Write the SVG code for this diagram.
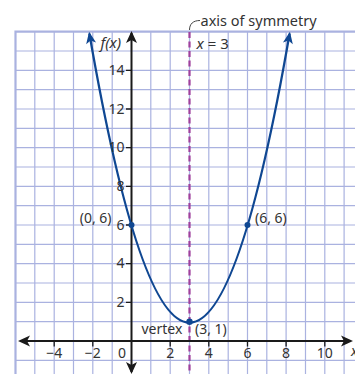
<svg xmlns="http://www.w3.org/2000/svg" width="355" height="374" viewBox="0 0 355 374">
<style>
.grid{stroke:#aab2e0;stroke-width:1.2;fill:none}
.border{stroke:#aab2e0;stroke-width:2.2;fill:none}
.axis{stroke:#1a1a1a;stroke-width:2;fill:none}
.tick{stroke:#1a1a1a;stroke-width:1.3}
.curve{stroke:#0f4792;stroke-width:2.3;fill:none}
.sym{stroke:#a0409c;stroke-width:2.2;stroke-dasharray:6 3.5;fill:none}
.hook{stroke:#444;stroke-width:1;fill:none}
text{font-family:"Noto Sans","Open Sans",sans-serif;font-size:14px;fill:#333}
.it{font-style:italic}
.ylab{text-anchor:end}
.xlab{text-anchor:middle}
</style>
<defs>
<marker id="ah" viewBox="-12 -6 14 12" refX="0" refY="0" markerWidth="14" markerHeight="12" markerUnits="userSpaceOnUse" orient="auto-start-reverse">
<path d="M2,0 L-10,-5.5 L-7,0 L-10,5.5 Z" fill="#1a1a1a"/>
</marker>
<marker id="ahb" viewBox="-12 -6 14 12" refX="0" refY="0" markerWidth="14" markerHeight="12" markerUnits="userSpaceOnUse" orient="auto-start-reverse">
<path d="M2,0 L-10,-5 L-7,0 L-10,5 Z" fill="#0f4792"/>
</marker>
</defs>
<rect width="355" height="374" fill="#ffffff"/>
<g id="grid">
<path class="grid" d="M34.8,31.7V374 M54.2,31.7V374 M73.5,31.7V374 M92.8,31.7V374 M112.2,31.7V374 M150.8,31.7V374 M170.2,31.7V374 M189.5,31.7V374 M208.8,31.7V374 M228.2,31.7V374 M247.5,31.7V374 M266.8,31.7V374 M286.1,31.7V374 M305.5,31.7V374 M324.8,31.7V374 M344.1,31.7V374"/>
<path class="grid" d="M15.5,360.3H355 M15.5,321.7H355 M15.5,302.3H355 M15.5,283H355 M15.5,263.7H355 M15.5,244.3H355 M15.5,225H355 M15.5,205.7H355 M15.5,186.4H355 M15.5,167H355 M15.5,147.7H355 M15.5,128.4H355 M15.5,109H355 M15.5,89.7H355 M15.5,70.4H355 M15.5,51H355"/>
<path class="border" d="M15.5,374V31.7H355"/>
</g>
<g id="symmetry-line">
<path class="sym" d="M189.5,32V374"/>
<path class="hook" d="M189.5,30 C189.5,24 193,20.5 200,20.5"/>
</g>
<g id="connectors">
<path class="axis" d="M131.5,372 V33" marker-start="url(#ah)" marker-end="url(#ah)"/>
<path class="axis" d="M20,341 H351" marker-start="url(#ah)" marker-end="url(#ah)"/>
<path class="tick" d="M126,302.3H131.5 M126,263.7H131.5 M126,225H131.5 M126,186.4H131.5 M126,147.7H131.5 M126,109H131.5 M126,70.4H131.5"/>
<path class="tick" d="M54.2,341V346.5 M92.8,341V346.5 M170.2,341V346.5 M208.8,341V346.5 M247.5,341V346.5 M286.1,341V346.5 M324.8,341V346.5"/>
</g>
<g id="parabola">
<path class="curve" d="M89.4,33.6 Q189.5,611.6 289.6,33.6" marker-start="url(#ahb)" marker-end="url(#ahb)"/>
</g>
<g id="point-0-6"><circle cx="131.5" cy="225" r="3" fill="#0f4792"/><text x="111.5" y="223" class="ylab">(0, 6)</text></g>
<g id="point-6-6"><circle cx="247.5" cy="225" r="3" fill="#0f4792"/><text x="255" y="223">(6, 6)</text></g>
<g id="vertex"><circle cx="189.5" cy="321.7" r="3.2" fill="#0f4792"/><text x="141.5" y="334">vertex</text><text x="195" y="334">(3, 1)</text></g>
<g id="labels">
<text x="200.5" y="26" style="font-size:14.5px">axis of symmetry</text>
<text x="196.5" y="48.5" style="font-size:15px"><tspan class="it">x</tspan> = 3</text>
<text x="100.5" y="48" class="it" style="font-size:15px">f(x)</text>
<text x="351" y="356" class="it">x</text>
<text x="124.5" y="307" class="ylab">2</text>
<text x="124.5" y="268.2" class="ylab">4</text>
<text x="124.5" y="229.5" class="ylab">6</text>
<text x="124.5" y="190.9" class="ylab">8</text>
<text x="124.5" y="152.2" class="ylab">10</text>
<text x="124.5" y="113.5" class="ylab">12</text>
<text x="124.5" y="74.9" class="ylab">14</text>
<text x="54.2" y="358" class="xlab">−4</text>
<text x="92.8" y="358" class="xlab">−2</text>
<text x="122" y="358" class="xlab">0</text>
<text x="170.2" y="358" class="xlab">2</text>
<text x="208.8" y="358" class="xlab">4</text>
<text x="247.5" y="358" class="xlab">6</text>
<text x="286.1" y="358" class="xlab">8</text>
<text x="324.8" y="358" class="xlab">10</text>
</g>
</svg>
